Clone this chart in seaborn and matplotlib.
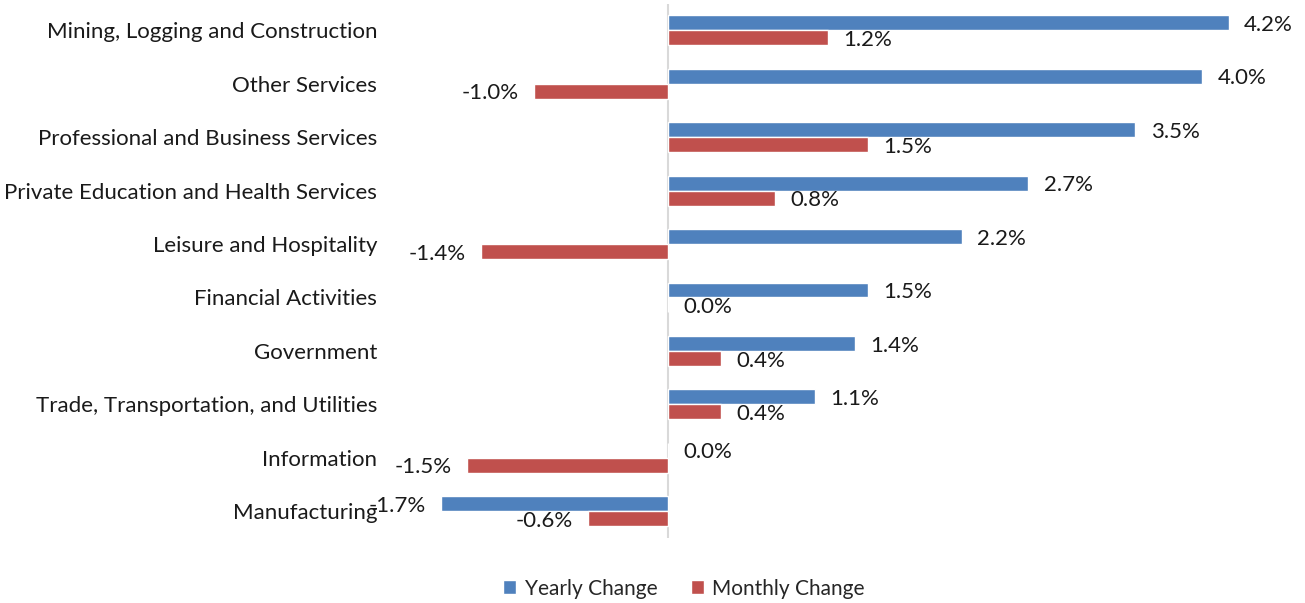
import matplotlib
matplotlib.use("Agg")
import matplotlib.pyplot as plt
import seaborn as sns
import pandas as pd
from matplotlib.patches import Patch

categories = [
    "Mining, Logging and Construction",
    "Other Services",
    "Professional and Business Services",
    "Private Education and Health Services",
    "Leisure and Hospitality",
    "Financial Activities",
    "Government",
    "Trade, Transportation, and Utilities",
    "Information",
    "Manufacturing",
]
yearly = [4.2, 4.0, 3.5, 2.7, 2.2, 1.5, 1.4, 1.1, 0.0, -1.7]
monthly = [1.2, -1.0, 1.5, 0.8, -1.4, 0.0, 0.4, 0.4, -1.5, -0.6]
series = ["Yearly Change", "Monthly Change"]
colors = ["#4F81BD", "#C0504D"]

df = pd.DataFrame({
    "Category": categories * 2,
    "Series": [series[0]] * len(categories) + [series[1]] * len(categories),
    "Value": yearly + monthly,
})

sns.set_style("white")
plt.rcParams["font.family"] = ["Lato", "DejaVu Sans"]

fig = plt.figure(figsize=(13.05, 6.03), dpi=100)
ax = fig.add_axes([0.307, 0.108, 0.6756, 0.886])

sns.barplot(data=df, y="Category", x="Value", hue="Series", order=categories,
            hue_order=series, palette=colors, orient="h", width=0.56,
            saturation=1, ax=ax, legend=False)

ax.set_xlim(-2.0, 4.6)
ax.set_xlabel("")
ax.set_ylabel("")
ax.set_xticks([])
for s in ax.spines.values():
    s.set_visible(False)
ax.axvline(0, color="#D9D9D9", lw=1.5, zorder=0)
ax.tick_params(axis="y", length=0, pad=17, labelsize=16)
for lbl in ax.get_yticklabels():
    lbl.set_color("#1a1a1a")

for container, vals in zip(ax.containers, [yearly, monthly]):
    for bar, v in zip(container, vals):
        y = bar.get_y() + bar.get_height() / 2 + 0.04
        txt = f"{v:.1f}%"
        if v < 0:
            ax.annotate(txt, (v, y), xytext=(-11, 0), textcoords="offset points",
                        ha="right", va="center", fontsize=16, color="#1a1a1a")
        else:
            ax.annotate(txt, (v, y), xytext=(11, 0), textcoords="offset points",
                        ha="left", va="center", fontsize=16, color="#1a1a1a")

handles = [Patch(facecolor=c, label=s) for c, s in zip(colors, series)]
fig.legend(handles=handles, loc="center", bbox_to_anchor=(0.524, 0.024), ncol=2,
           frameon=False, fontsize=15, handlelength=0.65, handleheight=0.65,
           handletextpad=0.4, columnspacing=1.6)

fig.savefig("out.png", dpi=100)
